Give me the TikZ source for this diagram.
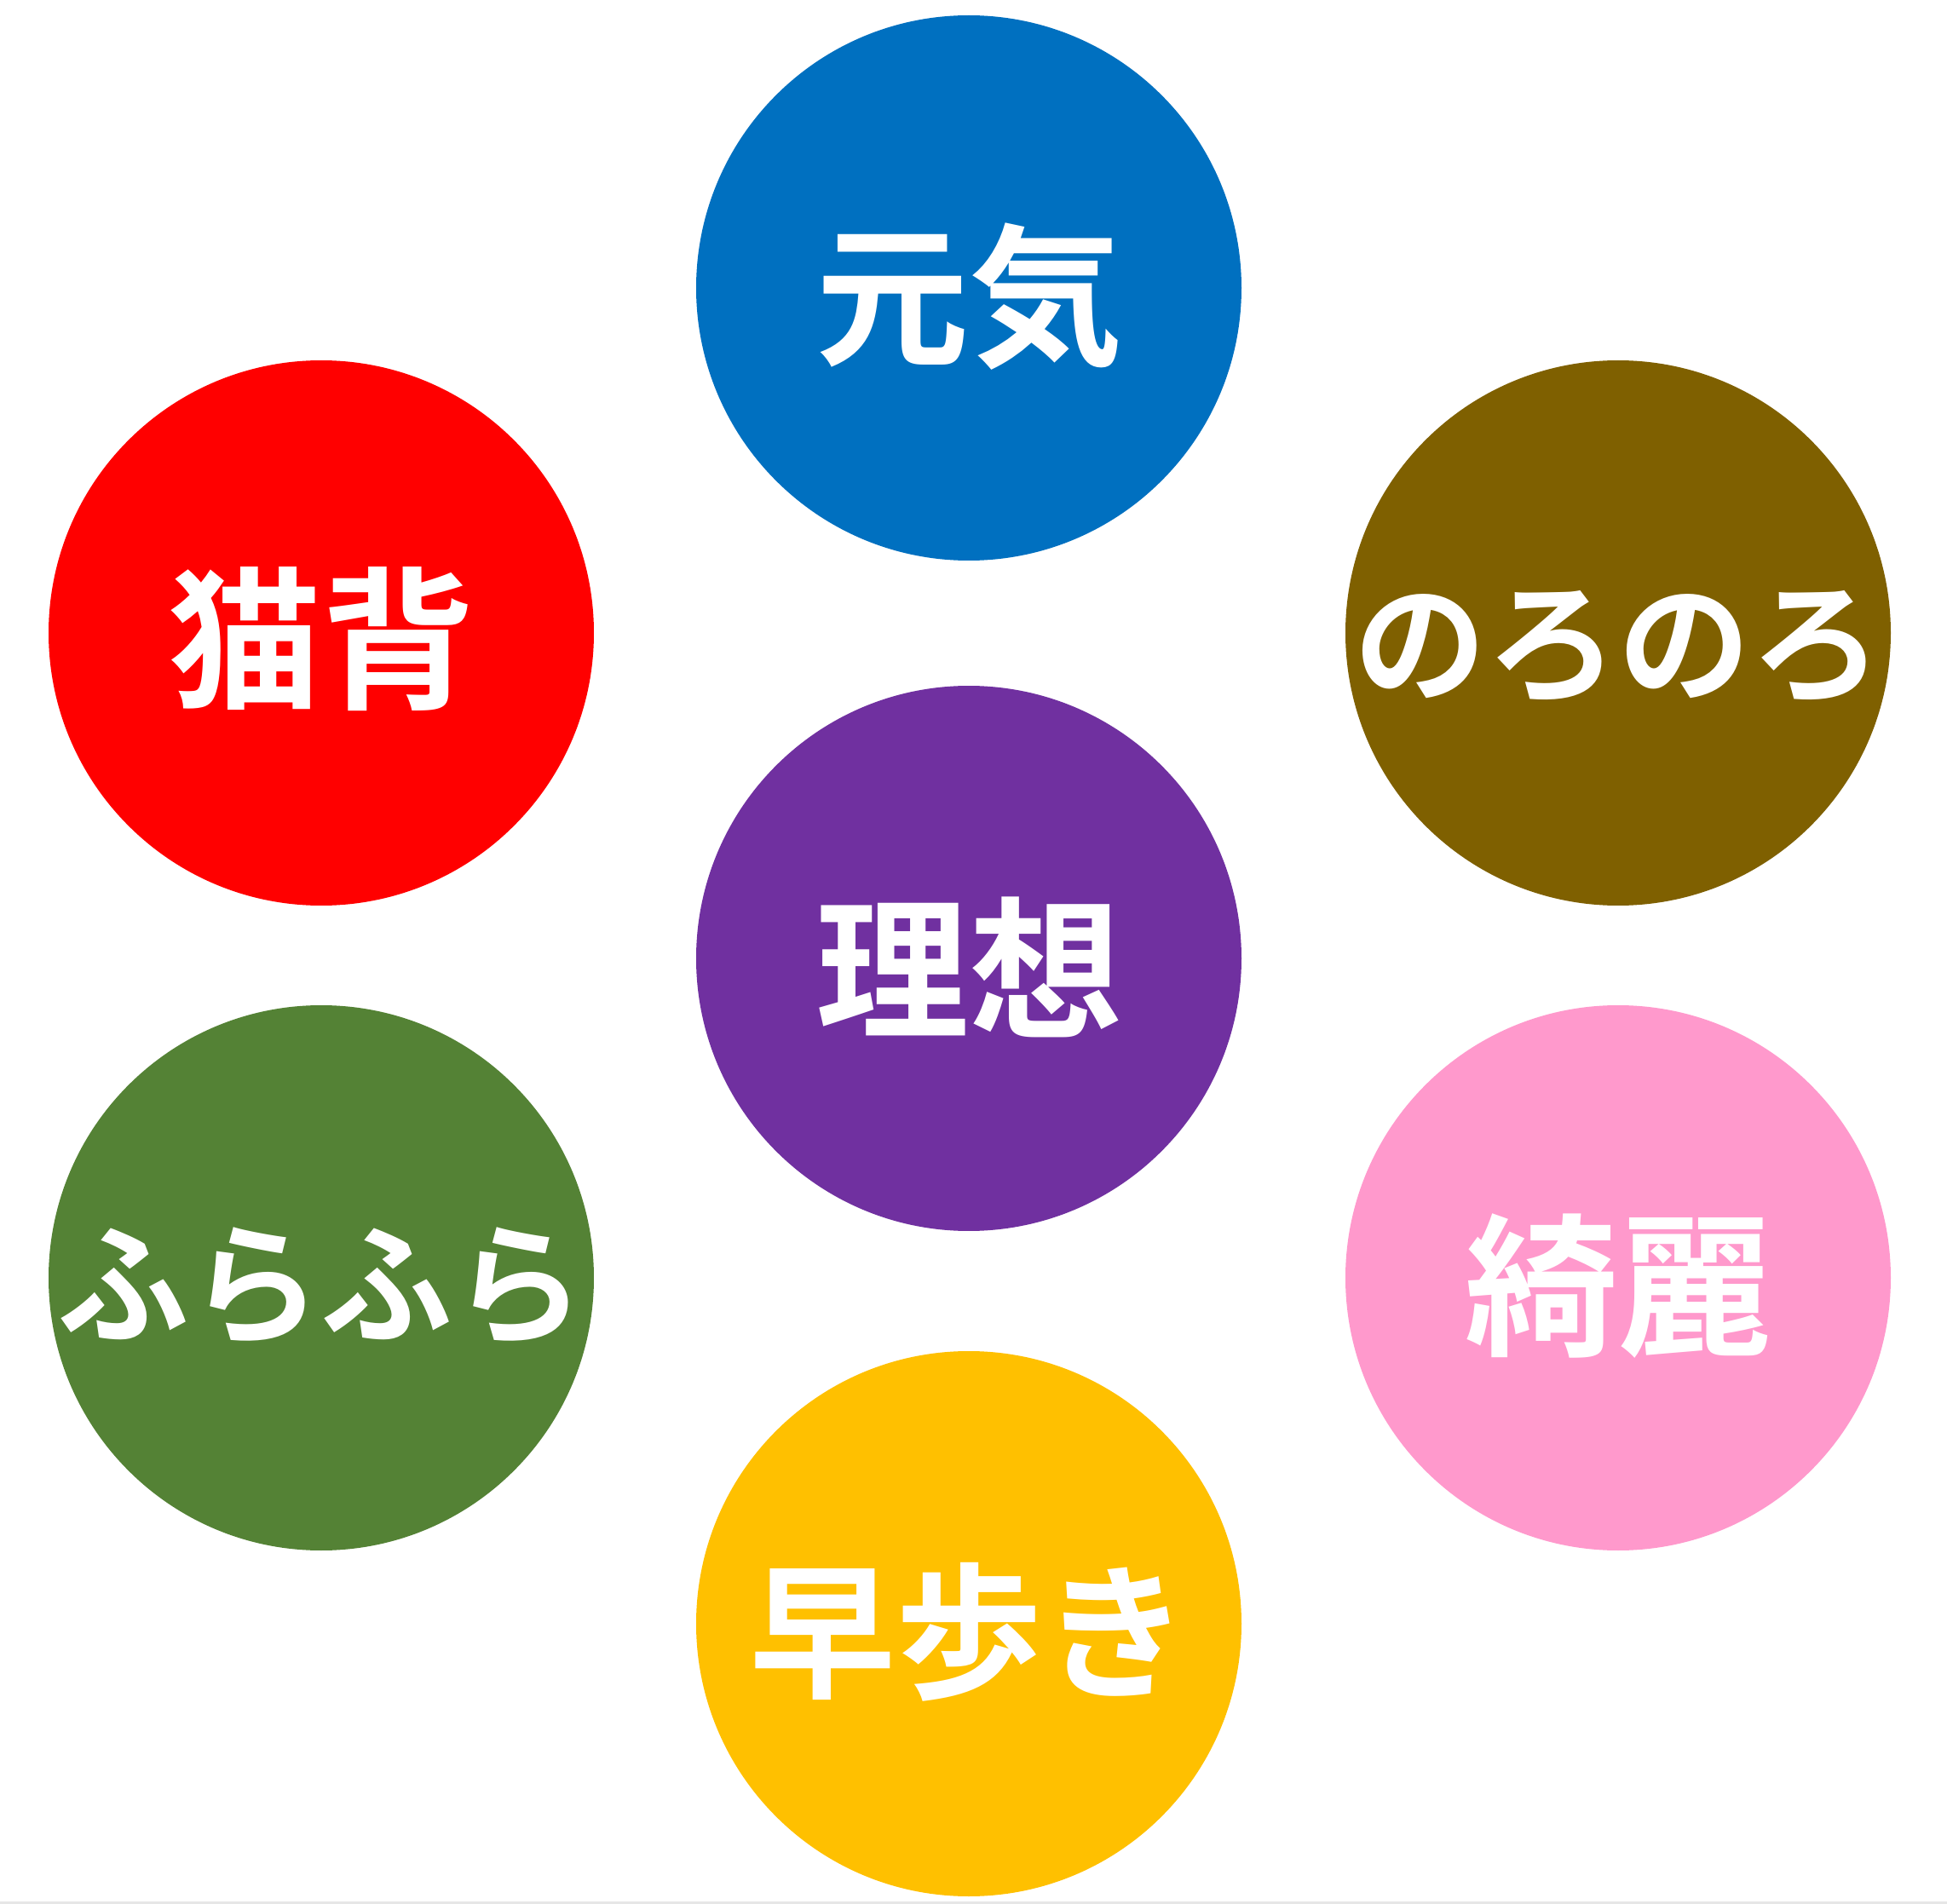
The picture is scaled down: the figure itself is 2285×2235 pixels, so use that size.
\documentclass[tikz,border=0pt]{standalone}
\usepackage{fontspec}
\newfontfamily\jp{Noto Sans CJK JP}[BoldFont={Noto Sans CJK JP Bold}]
\definecolor{cblue}{HTML}{0070C0}
\definecolor{cred}{HTML}{FF0000}
\definecolor{cbrown}{HTML}{7F6000}
\definecolor{cpurple}{HTML}{7030A0}
\definecolor{cgreen}{HTML}{548235}
\definecolor{cpink}{HTML}{FF99CC}
\definecolor{cyellow}{HTML}{FFC000}
\definecolor{cline}{HTML}{E6E6E6}
\tikzset{
  bubble/.style={circle, fill=#1, draw=none, minimum size=192pt, inner sep=0pt, text=white},
  kanji/.style={font=\jp\bfseries\fontsize{54pt}{60pt}\selectfont},
  kana/.style={font=\jp\bfseries\fontsize{46.5pt}{52pt}\selectfont},
  mixed/.style={font=\jp\bfseries\fontsize{51.6pt}{58pt}\selectfont}
}
\begin{document}
\begin{tikzpicture}[x=0.3pt,y=-0.3pt]
\useasboundingbox (0,0) rectangle (2285,2235);
\fill[cline] (0,2232) rectangle (2285,2235);
\node[bubble=cblue]   (genki)  at (1137,338)  {};
\node[bubble=cred]    (nekoze) at (377,743)   {};
\node[bubble=cbrown]  (noro)   at (1899,743)  {};
\node[bubble=cpurple] (riso)   at (1137,1125) {};
\node[bubble=cgreen]  (fura)   at (377,1500)  {};
\node[bubble=cpink]   (kirei)  at (1899,1500) {};
\node[bubble=cyellow] (haya)   at (1137,1906) {};
\node[kanji, text=white] (tgenki)  at ([yshift=-3pt]genki.center)  {元気};
\node[kanji, text=white] (tnekoze) at ([yshift=-2pt]nekoze.center) {猫背};
\node[kana,  text=white] (tnoro)   at ([yshift=-5pt]noro.center)   {のろのろ};
\node[kanji, text=white] (triso)   at ([yshift=-3pt]riso.center)   {理想};
\node[kana,  text=white] (tfura)   at ([yshift=-3pt]fura.center)   {ふらふら};
\node[kanji, text=white] (tkirei)  at ([yshift=-3pt]kirei.center)  {綺麗};
\node[mixed, text=white] (thaya)   at ([yshift=-3pt]haya.center)   {早歩き};
\end{tikzpicture}
\end{document}
